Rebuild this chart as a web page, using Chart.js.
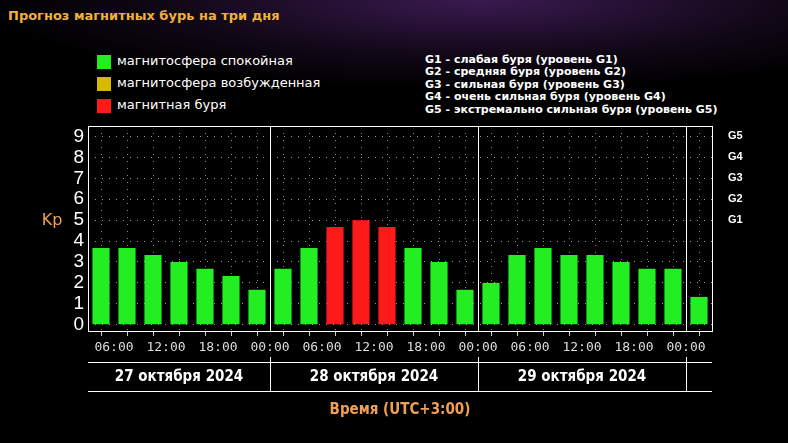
<!DOCTYPE html>
<html><head><meta charset="utf-8">
<script src="https://cdn.jsdelivr.net/npm/chart.js@4"></script>
<style>
body{margin:0;width:788px;height:443px;overflow:hidden;background:radial-gradient(ellipse 500px 90px at 480px 0px,#3a1a50 0%,#120818 60%,#000 100%);font-family:"DejaVu Sans",sans-serif;}
#wrap{position:absolute;left:0;top:0;width:788px;height:443px;}
.t{position:absolute;color:#fff;white-space:nowrap}
.box{position:absolute;width:14px;height:14px}
</style></head><body>
<div class="t" style="left:8px;top:8px;color:#f0b040;font-weight:bold;font-size:13px">Прогноз магнитных бурь на три дня</div>
<div class="box" style="left:97px;top:55px;background:#22ee22"></div><div class="t" style="left:117px;top:53px;font-size:13px">магнитосфера спокойная</div>
<div class="box" style="left:97px;top:77px;background:#d8b800"></div><div class="t" style="left:117px;top:75px;font-size:13px">магнитосфера возбужденная</div>
<div class="box" style="left:97px;top:99px;background:#ff1a1a"></div><div class="t" style="left:117px;top:97px;font-size:13px">магнитная буря</div>
<div class="t" style="left:425px;top:54px;font-size:11px;font-weight:bold;line-height:12.4px">G1 - слабая буря (уровень G1)<br>G2 - средняя буря (уровень G2)<br>G3 - сильная буря (уровень G3)<br>G4 - очень сильная буря (уровень G4)<br>G5 - экстремально сильная буря (уровень G5)</div>
<div id="wrap"><canvas id="c" width="788" height="443"></canvas></div>
<script>
const kpValues=[3.67,3.67,3.33,3,2.67,2.33,1.67, 2.67,3.67,4.67,5,4.67,3.67,3,1.67, 2,3.33,3.67,3.33,3.33,3,2.67,2.67, 1.33];
const dayLabels=["27 октября 2024","28 октября 2024","29 октября 2024"];
const dayBounds=[0,7,15,23,24];
const gLabels=["G1","G2","G3","G4","G5"];
const startHour=3;
const colors=kpValues.map(v=>v>=4.5?'#ff1a1a':(v>=4?'#d8b800':'#22ee22'));
const extra={id:'extra',afterDraw(ch){
 const c=ch.ctx,a=ch.chartArea,x=ch.scales.x;
 c.save();c.strokeStyle='#fff';c.lineWidth=1;
 c.strokeRect(a.left+0.5,a.top+0.5,a.right-a.left,a.bottom-a.top);
 [7,15,23].forEach(v=>{const px=Math.round(x.getPixelForValue(v))+0.5;c.beginPath();c.moveTo(px,a.top);c.lineTo(px,a.bottom);c.stroke();
  c.beginPath();c.moveTo(px,a.bottom+26);c.lineTo(px,391);c.stroke();});
 c.beginPath();c.moveTo(a.left,362.5);c.lineTo(a.right,362.5);c.moveTo(a.left,391.5);c.lineTo(a.right,391.5);c.stroke();
 c.fillStyle='#fff';c.font='bold 15px "DejaVu Sans Condensed","DejaVu Sans"';c.textAlign='center';c.textBaseline='middle';
 dayLabels.forEach((t,i)=>{const m=(x.getPixelForValue(dayBounds[i])+x.getPixelForValue(dayBounds[i+1]))/2;c.fillText(t,m,377);});
 c.fillStyle='#f0a050';c.font='bold 15px "DejaVu Sans Condensed","DejaVu Sans"';c.fillText('Время (UTC+3:00)',(a.left+a.right)/2,410);
 c.font='16px "DejaVu Sans"';c.fillText('Kp',52,221);
 c.restore();}};
new Chart(document.getElementById('c'),{type:'bar',
 data:{datasets:[{data:kpValues.map((v,i)=>({x:i+0.5,y:v})),backgroundColor:colors,barPercentage:0.66,categoryPercentage:1}]},
 options:{responsive:false,animation:false,layout:{padding:{top:126}},
  plugins:{legend:{display:false},tooltip:{enabled:false}},
  scales:{
   x:{type:'linear',min:0,max:24,offset:false,afterFit(s){s.height=112;},
    grid:{color:'#888',drawTicks:true,tickLength:5,tickColor:'#ccc'},border:{display:false,dash:[1,6]},
    ticks:{stepSize:1,autoSkip:false,maxRotation:0,color:'#ddd',font:{family:'"DejaVu Sans Mono"',size:13},padding:4,
     callback(v){const h=(startHour+3*v)%24;return (Number.isInteger(v)&&v>0&&h%6===0)?String(h).padStart(2,'0')+':00':'';}}},
   y:{min:-0.3,max:9.5,afterFit(s){s.width=88;},grid:{color:'#999',drawTicks:false},border:{display:false,dash:[1,6]},
    afterBuildTicks(s){s.ticks=[0,1,2,3,4,5,6,7,8,9].map(v=>({value:v}));},
    ticks:{color:'#fff',font:{size:19},padding:4,autoSkip:false,stepSize:1}},
   y2:{position:'right',min:-0.3,max:9.5,afterFit(s){s.width=76;},grid:{display:false},border:{display:false},
    afterBuildTicks(s){s.ticks=[5,6,7,8,9].map(v=>({value:v}));},
    ticks:{color:'#fff',font:{size:11,weight:'bold'},padding:8,autoSkip:false,callback(v){return gLabels[v-5];}}}
  }},plugins:[extra]});
</script></body></html>
